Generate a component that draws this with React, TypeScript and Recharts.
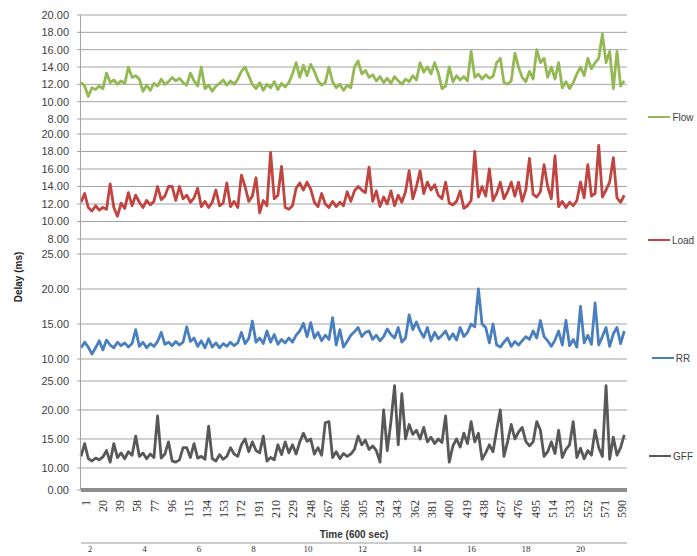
import React from 'react';
import { LineChart, Line, XAxis, YAxis, CartesianGrid, Legend, Label } from 'recharts';

// Delay (ms) readings, one every 4 time slots (slot 1, 5, 9, ... 597)
const flowDelay = [
  12.2, 11.8, 10.6, 11.6, 11.4, 11.8, 11.5, 13.3, 12.2, 12.5,
  12.0, 12.4, 12.1, 14.0, 12.8, 13.0, 12.6, 11.2, 11.9, 11.3,
  12.1, 11.8, 12.6, 12.0, 12.3, 12.8, 12.4, 12.7, 12.2, 11.9,
  13.3, 12.4, 11.8, 14.0, 11.5, 11.9, 11.2, 11.8, 12.1, 12.5,
  11.9, 12.4, 12.0, 12.6, 13.5, 14.0, 13.0, 12.0, 11.5, 12.2,
  11.3, 12.0, 11.6, 12.3, 11.4, 12.1, 11.7, 12.2, 13.2, 14.5,
  12.8, 14.2, 13.0, 14.3, 13.5, 12.4, 11.9, 12.2, 14.0, 12.3,
  11.6, 12.0, 11.3, 11.9, 11.6, 14.0, 14.7, 13.2, 13.6, 12.8,
  13.1, 12.4, 12.9, 12.2, 12.7, 12.1, 12.9, 12.4, 12.0, 12.6,
  12.3, 13.0, 12.5, 14.5, 13.4, 14.0, 13.2, 14.5, 13.3, 11.5,
  11.8, 14.0, 12.3, 13.0, 12.5, 12.9, 12.4, 15.8, 12.8, 13.2,
  12.6, 13.1, 12.7, 12.9, 14.5, 15.0, 12.2, 12.0, 12.4, 15.6,
  14.0, 12.8, 12.3, 13.5, 12.6, 16.0, 14.5, 15.0, 12.8, 14.0,
  12.6, 14.5, 11.6, 12.3, 11.5, 12.2, 13.2, 14.0, 13.0, 15.0,
  13.8, 14.5, 15.0, 17.8, 14.5, 15.8, 11.5, 15.8, 11.8, 12.4,
];

const loadDelay = [
  12.2, 13.2, 11.6, 11.2, 11.8, 11.3, 11.6, 11.4, 14.3, 11.6,
  10.6, 12.1, 11.5, 13.3, 11.8, 13.0, 12.2, 11.6, 12.4, 11.9,
  12.3, 14.0, 12.5, 12.9, 14.0, 14.0, 12.4, 14.0, 12.6, 13.0,
  12.2, 12.7, 13.8, 11.7, 12.3, 11.6, 12.2, 13.6, 11.8, 12.1,
  14.4, 11.7, 12.3, 11.6, 15.3, 14.0, 12.3, 12.9, 15.0, 11.0,
  12.4, 11.8, 17.9, 12.6, 13.0, 16.3, 11.6, 11.4, 11.8, 13.8,
  14.4, 13.6, 14.5, 13.7, 12.2, 11.7, 13.2, 12.0, 11.6, 12.3,
  11.7, 12.2, 11.8, 13.4, 12.3, 13.5, 14.0, 13.6, 13.3, 16.2,
  12.3, 13.5, 11.7, 12.8, 12.0, 13.5, 11.8, 13.0, 12.2, 13.4,
  15.8, 12.6, 14.0, 15.8, 13.2, 14.5, 13.6, 14.2, 13.0, 12.6,
  14.5, 12.1, 11.9, 12.3, 13.5, 11.5, 11.8, 12.4, 18.0, 12.8,
  14.0, 12.9, 16.0, 12.4, 13.2, 14.5, 12.6, 13.4, 14.5, 12.9,
  14.5, 12.3, 13.6, 17.2, 13.1, 12.8, 13.4, 16.5, 14.0, 12.6,
  17.5, 11.7, 12.3, 11.6, 12.2, 11.8, 12.4, 14.5, 12.7, 16.5,
  12.9, 13.2, 18.7, 12.8, 13.6, 14.5, 17.3, 12.7, 12.2, 13.0,
];

const rrDelay = [
  11.6, 12.4, 11.7, 10.7, 11.6, 12.6, 11.3, 12.7, 12.0, 11.6,
  12.4, 11.9, 12.3, 11.7, 12.2, 14.2, 11.8, 12.4, 11.6, 12.2,
  11.8, 12.5, 13.8, 12.1, 12.4, 11.9, 12.5, 12.0, 12.4, 14.6,
  12.5, 13.0, 11.8, 12.6, 11.6, 12.9, 11.7, 12.3, 11.6, 12.2,
  11.8, 12.4, 11.9, 12.3, 13.8, 12.2, 12.9, 15.4, 12.4, 13.0,
  12.2, 14.0, 12.4, 13.5, 12.1, 12.8, 12.3, 13.0, 12.4, 13.4,
  14.0, 15.1, 13.2, 15.2, 13.0, 13.8, 12.6, 13.4, 12.8, 15.9,
  12.0, 14.2, 11.7, 12.5, 13.4, 13.9, 14.5, 13.2, 13.8, 14.0,
  12.8, 13.4, 12.6, 13.2, 14.3, 13.5, 13.0, 14.5, 12.4, 13.0,
  16.3, 14.2, 15.3, 14.0, 13.1, 14.5, 12.6, 13.8, 12.9, 13.4,
  14.0, 12.8, 13.6, 12.7, 14.5, 13.2, 13.8, 15.0, 14.6, 20.0,
  15.0, 14.5, 12.3, 15.0, 12.0, 11.7, 12.4, 13.0, 11.8, 12.5,
  12.0, 12.6, 13.2, 12.8, 14.0, 13.0, 15.5, 13.2, 12.6, 11.8,
  12.7, 14.0, 12.0, 15.5, 11.9, 12.8, 11.7, 17.5, 12.3, 13.4,
  12.1, 18.0, 12.0, 13.2, 14.5, 11.8, 13.6, 14.5, 12.2, 14.0,
];

const gffDelay = [
  12.0, 14.2, 11.6, 11.2, 11.7, 11.4, 11.9, 13.0, 11.0, 14.2,
  11.8, 12.6, 11.6, 12.8, 12.2, 15.5, 12.0, 12.6, 11.6, 12.4,
  11.8, 19.0, 11.7, 12.4, 14.5, 11.2, 11.0, 11.4, 13.5, 13.5,
  11.8, 14.2, 11.7, 12.0, 11.5, 17.2, 11.6, 11.2, 12.3, 11.5,
  12.0, 13.5, 12.4, 12.0, 14.0, 15.0, 12.8, 14.5, 13.0, 12.6,
  15.5, 11.2, 11.8, 11.4, 14.0, 12.3, 14.5, 12.6, 14.0, 12.4,
  14.5, 16.0, 14.6, 15.0, 12.4, 13.5, 12.2, 17.8, 18.0, 11.8,
  12.8, 11.6, 12.5, 12.0, 12.4, 13.2, 15.5, 14.0, 14.8, 13.2,
  13.8, 13.0, 11.0, 20.0, 13.0, 18.0, 24.2, 14.0, 22.8, 15.0,
  17.5, 15.8, 16.5, 15.0, 17.0, 14.5, 15.3, 14.2, 15.0, 14.4,
  19.0, 11.0, 13.8, 15.0, 13.6, 16.0, 14.2, 18.0, 14.5, 16.0,
  11.5, 12.6, 14.0, 12.8, 16.5, 20.0, 12.0, 14.5, 17.5, 15.0,
  16.2, 17.0, 14.6, 13.8, 14.5, 18.0, 16.5, 12.0, 12.8, 14.5,
  12.5, 16.5, 11.8, 13.2, 14.0, 18.0, 11.8, 13.4, 11.6, 13.0,
  12.2, 16.5, 13.5, 12.0, 24.2, 11.5, 15.3, 12.2, 13.5, 15.7,
];

const SAMPLE_STEP = 4;
const timeSlots = flowDelay.map((_, i) => 1 + i * SAMPLE_STEP);

const timeTicks = [1, 20, 39, 58, 77, 96, 115, 134, 153, 172, 191, 210, 229, 248, 267, 286, 305, 324, 343, 362, 381, 400, 419, 438, 457, 476, 495, 514, 533, 552, 571, 590];
const minuteTicks = [2, 4, 6, 8, 10, 12, 14, 16, 18, 20];
// minute scale drawn under the time axis: minute value at slot 1 and at slot 600
const MINUTE_AT_START = 1.67;
const MINUTE_AT_END = 21.71;
const TIME_DOMAIN: [number, number] = [1, 600];
const minuteToSlot = (m: number) =>
  TIME_DOMAIN[0] + ((m - MINUTE_AT_START) * (TIME_DOMAIN[1] - TIME_DOMAIN[0])) / (MINUTE_AT_END - MINUTE_AT_START);
const slotToMinute = (t: number) =>
  Math.round(MINUTE_AT_START + ((t - TIME_DOMAIN[0]) * (MINUTE_AT_END - MINUTE_AT_START)) / (TIME_DOMAIN[1] - TIME_DOMAIN[0]));
const minuteSlotTicks = minuteTicks.map(minuteToSlot);

const flowTicks = [8, 10, 12, 14, 16, 18, 20];
const loadTicks = [8, 10, 12, 14, 16, 18, 20];
const rrTicks = [10, 15, 20, 25];
const GFF_AXIS_BREAK = 6.2;
const gffTicks = [GFF_AXIS_BREAK, 10, 15, 20, 25];

const rows = timeSlots.map((t, i) => ({
  t,
  flow: flowDelay[i],
  load: loadDelay[i],
  rr: rrDelay[i],
  gff: gffDelay[i],
}));

const SANS = '"Liberation Sans", Arial, sans-serif';
const SERIF = '"Liberation Serif", "Times New Roman", serif';
const GRID = '#a3a3a3';
const W = 697;
const MARGIN_RIGHT = 70;
const YAXIS_W = 81;
const STROKE_W = 2.8;

const renderLegend = (props: any) => {
  const item = props.payload && props.payload[0];
  if (!item) return null;
  return (
    <div style={{ display: 'flex', alignItems: 'center', justifyContent: 'center', fontFamily: SANS, fontSize: 10, color: '#404040', whiteSpace: 'nowrap', height: 12 }}>
      <span style={{ display: 'inline-block', width: 22, borderTop: `2px solid ${item.color}`, marginRight: 2 }} />
      <span>{item.value}</span>
    </div>
  );
};

const fmt = (v: number) => (v === GFF_AXIS_BREAK ? '0.00' : v.toFixed(2));

type PanelDef = {
  key: string;
  name: string;
  color: string;
  ticks: number[];
  domain: [number, number];
  plotTop: number;
  plotBottom: number;
  legendY: number;
};

const panels: PanelDef[] = [
  { key: 'flow', name: 'Flow', color: '#94b954', ticks: flowTicks, domain: [8, 20], plotTop: 15, plotBottom: 119, legendY: 117 },
  { key: 'load', name: 'Load', color: '#c0443f', ticks: loadTicks, domain: [8, 20], plotTop: 134, plotBottom: 239, legendY: 240 },
  { key: 'rr', name: 'RR', color: '#4a7fbe', ticks: rrTicks, domain: [10, 25], plotTop: 254, plotBottom: 359, legendY: 358 },
];

const yAxisProps = {
  width: YAXIS_W,
  axisLine: false,
  tickLine: { stroke: GRID },
  tickSize: 4,
  tickMargin: 8,
  interval: 0 as const,
  tick: { fontFamily: SANS, fontSize: 11, fill: '#404040' },
  tickFormatter: fmt,
  allowDataOverflow: true,
};

export default function App() {
  const gffTop = 371;
  return (
    <div style={{ position: 'absolute', left: 0, top: 0, width: W, height: 556, background: '#fff', overflow: 'hidden' }}>
      {panels.map((p) => {
        const top = p.plotTop - 10;
        const height = p.plotBottom - p.plotTop + 20;
        return (
          <div key={p.key} style={{ position: 'absolute', left: 0, top }}>
            <LineChart width={W} height={height} data={rows} margin={{ top: 10, right: MARGIN_RIGHT, bottom: 10, left: 0 }}>
              <CartesianGrid vertical={false} stroke={GRID} />
              <XAxis dataKey="t" type="number" domain={TIME_DOMAIN} hide />
              <YAxis {...(yAxisProps as any)} domain={p.domain} ticks={p.ticks} />
              <Line dataKey={p.key} name={p.name} stroke={p.color} strokeWidth={STROKE_W} dot={false} isAnimationActive={false} strokeLinejoin="round" />
              <Legend layout="horizontal" align="center" verticalAlign="middle" content={renderLegend}
                wrapperStyle={{ left: 641, top: p.legendY - top - 6, width: 60, height: 12 }} />
            </LineChart>
          </div>
        );
      })}
      <div style={{ position: 'absolute', left: 0, top: gffTop }}>
        <LineChart width={W} height={556 - gffTop} data={rows} margin={{ top: 10, right: MARGIN_RIGHT, bottom: 0, left: 0 }}>
          <CartesianGrid vertical={false} stroke={GRID} />
          <XAxis dataKey="t" type="number" domain={TIME_DOMAIN} ticks={timeTicks} interval={0} height={53}
            tickLine={false} axisLine={{ stroke: '#8c8c8c', strokeWidth: 4 }} tickSize={4} tickMargin={6}
            tick={{ angle: -90, textAnchor: 'end', verticalAnchor: 'middle', fontFamily: SERIF, fontSize: 12, fill: '#333' } as any}>
            <Label value="Time (600 sec)" position="insideBottom" offset={5}
              style={{ fontFamily: SANS, fontWeight: 'bold', fontSize: 10, fill: '#333' }} />
          </XAxis>
          <XAxis xAxisId="minutes" dataKey="t" type="number" domain={TIME_DOMAIN} allowDataOverflow ticks={minuteSlotTicks} interval={0}
            tickFormatter={slotToMinute}
            height={13} tickLine={false} axisLine={{ stroke: '#999' }} tickSize={2} tickMargin={1}
            tick={{ fontFamily: SERIF, fontSize: 9, fill: '#333' }} />
          <YAxis {...(yAxisProps as any)} domain={[GFF_AXIS_BREAK, 25]} ticks={gffTicks} />
          <Line dataKey="gff" name="GFF" stroke="#585858" strokeWidth={STROKE_W} dot={false} isAnimationActive={false} strokeLinejoin="round" />
          <Legend layout="horizontal" align="center" verticalAlign="middle" content={renderLegend}
            wrapperStyle={{ left: 641, top: 456 - gffTop - 6, width: 60, height: 12 }} />
        </LineChart>
      </div>
      <div style={{ position: 'absolute', left: 80, top: 15, width: 1, height: 475, background: GRID }} />
      <div style={{ position: 'absolute', left: 19 - 40, top: 277 - 6, width: 80, height: 12, lineHeight: '12px', textAlign: 'center', transform: 'rotate(-90deg)', fontFamily: SANS, fontWeight: 'bold', fontSize: 10, color: '#222' }}>
        Delay (ms)
      </div>
    </div>
  );
}
